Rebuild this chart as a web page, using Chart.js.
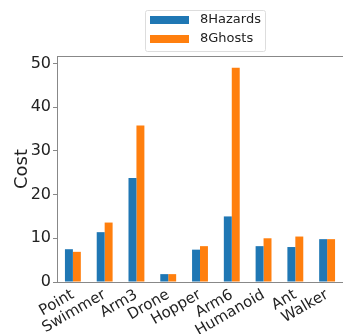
<!DOCTYPE html>
<html>
<head>
<meta charset="utf-8">
<script src="https://cdn.jsdelivr.net/npm/chart.js@4/dist/chart.umd.min.js"></script>
<style>
  html, body { margin: 0; padding: 0; background: #fff; }
  #wrap { width: 343px; height: 334px; }
</style>
</head>
<body>
<div id="wrap"><canvas id="chart"></canvas></div>
<script>
// envs and costs per setting
const envs = ["Point", "Swimmer", "Arm3", "Drone", "Hopper", "Arm6", "Humanoid", "Ant", "Walker"];
const hazards = [7.5, 11.4, 23.8, 1.8, 7.4, 15.0, 8.2, 8.0, 9.8];
const ghosts = [6.9, 13.6, 35.8, 1.8, 8.2, 49.0, 10.0, 10.4, 9.8];
const yTicks = [0, 10, 20, 30, 40, 50];

const FONT = "'DejaVu Sans', sans-serif";

// legend box drawn like matplotlib (two rows, framed)
const boxLegend = {
  id: "boxLegend",
  afterDraw(chart) {
    const c = chart.ctx;
    c.save();
    c.strokeStyle = "#ddd";
    c.lineWidth = 1;
    c.fillStyle = "rgba(255,255,255,0.8)";
    c.beginPath();
    c.roundRect(145.5, 10.5, 120, 41, 2);
    c.fill();
    c.stroke();
    c.font = "13px " + FONT;
    c.textBaseline = "middle";
    chart.data.datasets.forEach((ds, i) => {
      const y = 20 + i * 19;
      c.fillStyle = ds.backgroundColor;
      c.fillRect(150, y - 4, 39, 8);
      c.fillStyle = "#222";
      c.fillText(ds.label, 200, y);
    });
    c.restore();
  }
};

// top spine
const topSpine = {
  id: "topSpine",
  afterDraw(chart) {
    const a = chart.chartArea, c = chart.ctx;
    c.save();
    c.strokeStyle = "#888";
    c.lineWidth = 1;
    c.beginPath();
    c.moveTo(a.left, a.top + 0.5);
    c.lineTo(a.right, a.top + 0.5);
    c.stroke();
    c.restore();
  }
};

new Chart(document.getElementById("chart"), {
  type: "bar",
  data: {
    labels: envs,
    datasets: [
      { label: "8Hazards", data: hazards, backgroundColor: "#1f77b4" },
      { label: "8Ghosts", data: ghosts, backgroundColor: "#ff7f0e" }
    ]
  },
  options: {
    responsive: true,
    maintainAspectRatio: false,
    animation: false,
    devicePixelRatio: 1,
    layout: { padding: { top: 56, left: 0, right: 0, bottom: 0 } },
    plugins: { legend: { display: false }, tooltip: { enabled: false } },
    datasets: { bar: { barPercentage: 1, categoryPercentage: 0.5 } },
    scales: {
      x: {
        afterFit: s => { s.height = 52; },
        grid: { display: false },
        border: { color: "#888" },
        ticks: {
          autoSkip: false, minRotation: 30, maxRotation: 30,
          color: "#222", font: { family: FONT, size: 15 }, padding: -4, labelOffset: 0
        }
      },
      y: {
        min: 0, max: 51.7,
        afterFit: s => { s.width = 57; },
        afterBuildTicks: s => { s.ticks = yTicks.map(v => ({ value: v })); },
        grid: { drawOnChartArea: false, tickLength: 4, color: "#888" },
        border: { color: "#888" },
        ticks: { color: "#222", font: { family: FONT, size: 16 }, padding: 2 },
        title: { display: true, text: "Cost", color: "#222", font: { family: FONT, size: 18 }, padding: { top: 12, bottom: 0 } }
      }
    }
  },
  plugins: [boxLegend, topSpine]
});
</script>
</body>
</html>
